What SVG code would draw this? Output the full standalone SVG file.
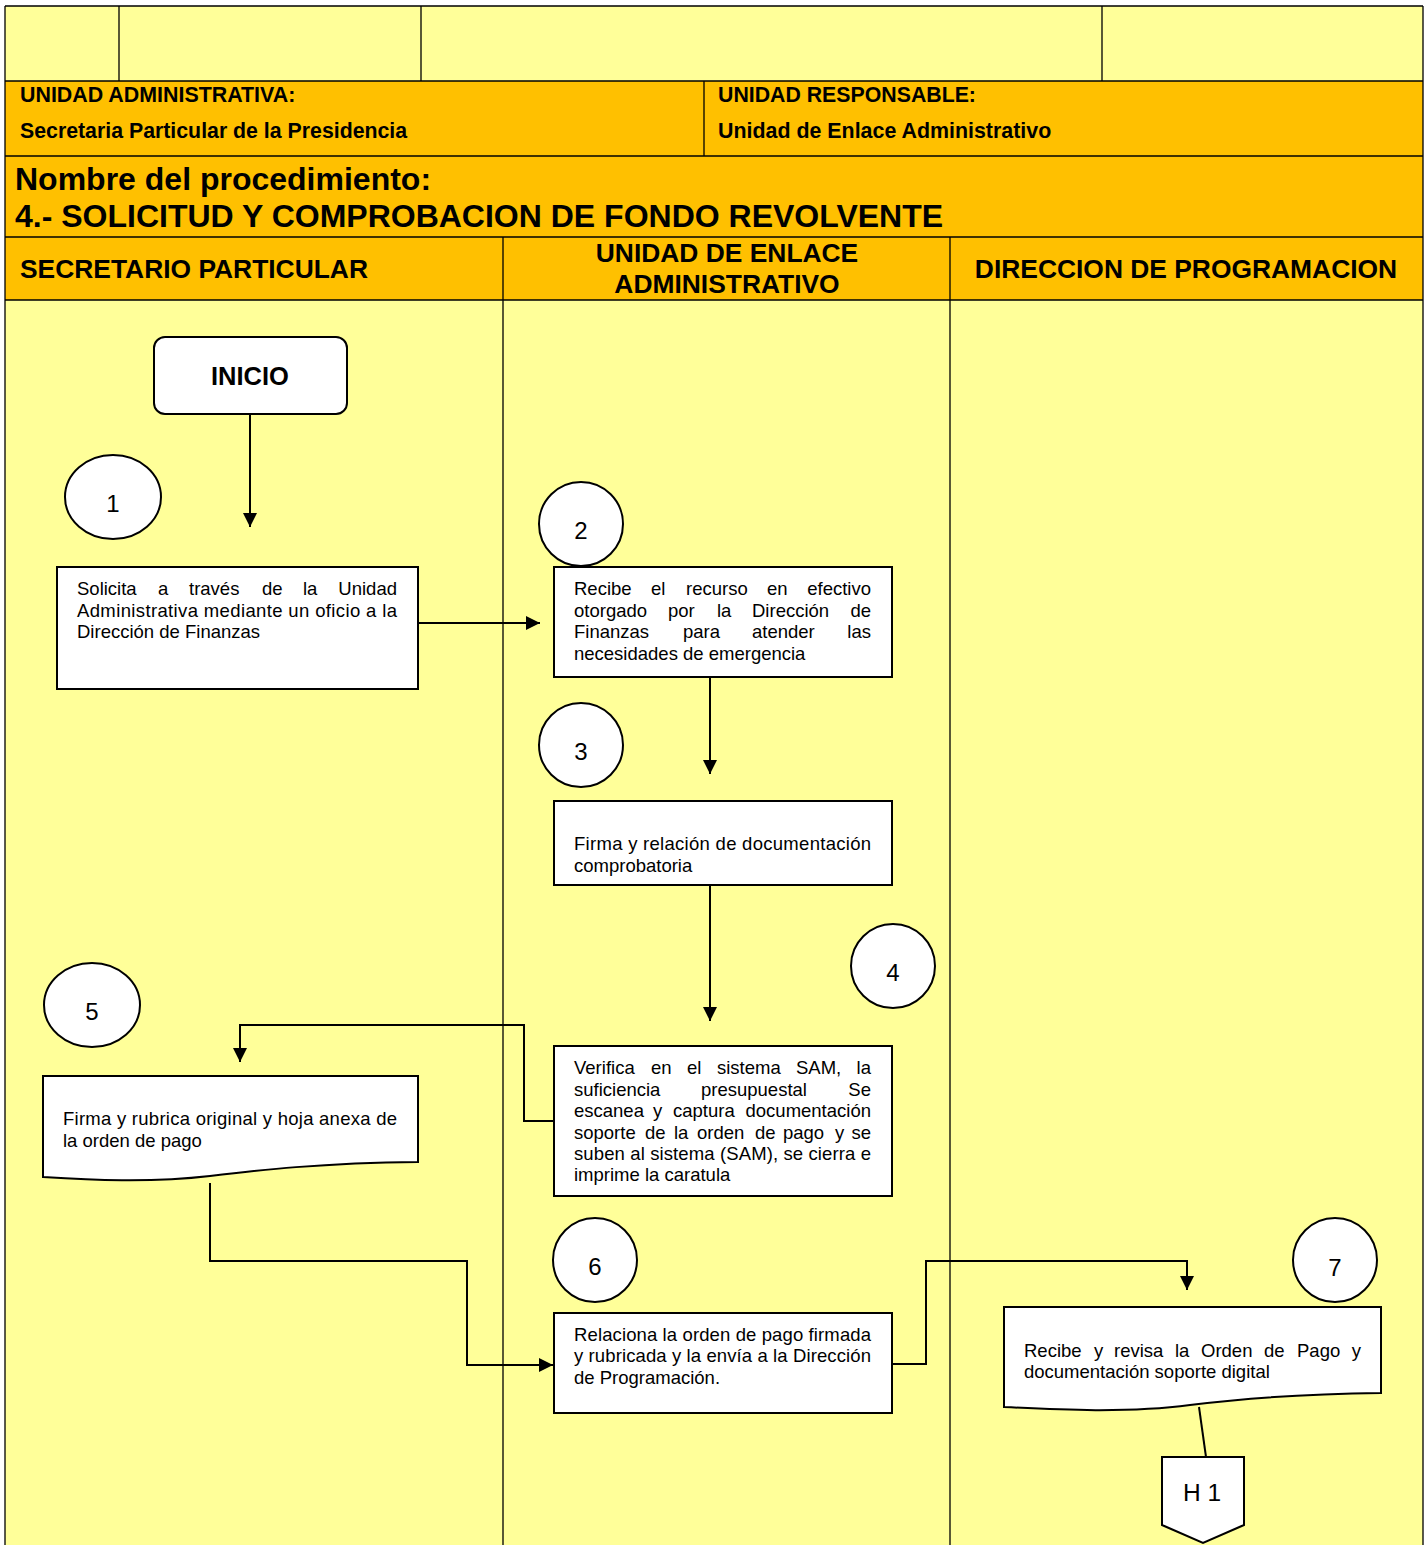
<svg xmlns="http://www.w3.org/2000/svg" width="1427" height="1545" viewBox="0 0 1427 1545">
  <style>
    .f{font-family:"Liberation Sans",Arial,Helvetica,sans-serif;fill:#000}
    .b{font-weight:bold}
    .t{font-size:18.5px}
    .num{font-size:24px;text-anchor:middle}
    .box{fill:#fff;stroke:#000;stroke-width:2}
    .grid{fill:none;stroke:#000;stroke-width:1.3}
    .con{fill:none;stroke:#000;stroke-width:2}
    .arr{marker-end:url(#ah)}
    .end{text-anchor:end}
  </style>
  <defs>
    <marker id="ah" markerUnits="userSpaceOnUse" markerWidth="14" markerHeight="14" viewBox="0 0 14 14" refX="14" refY="7" orient="auto">
      <path d="M0,0 L14,7 L0,14 Z" fill="#000"/>
    </marker>
  </defs>

  <!-- background bands -->
  <rect x="0" y="0" width="1427" height="1545" fill="#fff"/>
  <rect x="5" y="6" width="1418" height="75" fill="#FFFF99"/>
  <rect x="5" y="81" width="1418" height="219" fill="#FFC000"/>
  <rect x="5" y="300" width="1418" height="1250" fill="#FFFF99"/>

  <!-- header grid -->
  <g id="header-grid" class="grid">
    <path d="M5,6 H1423 M5,81 H1423 M5,156 H1423 M5,237 H1423 M5,300 H1423"/>
    <path d="M5,6 V1545 M1423,6 V1545"/>
    <path d="M119,6 V81 M421,6 V81 M1102,6 V81"/>
    <path d="M704,81 V156"/>
    <path d="M503,237 V1545 M950,237 V1545"/>
  </g>

  <!-- header texts -->
  <g id="header-text" class="f b">
    <text x="20" y="102" font-size="21.4">UNIDAD ADMINISTRATIVA:</text>
    <text x="20" y="138" font-size="21.3">Secretaria Particular de la Presidencia</text>
    <text x="718" y="102" font-size="21.3">UNIDAD RESPONSABLE:</text>
    <text x="718" y="138" font-size="21.4">Unidad de Enlace Administrativo</text>
    <text x="15" y="190" font-size="32">Nombre del procedimiento:</text>
    <text x="15" y="227" font-size="32">4.- SOLICITUD Y COMPROBACION DE FONDO REVOLVENTE</text>
  </g>

  <!-- lane titles -->
  <g id="lanes" class="f b" font-size="26.4">
    <text x="20" y="278">SECRETARIO PARTICULAR</text>
    <text x="727" y="262" text-anchor="middle">UNIDAD DE ENLACE</text>
    <text x="727" y="293" text-anchor="middle">ADMINISTRATIVO</text>
    <text x="1186" y="278" text-anchor="middle">DIRECCION DE PROGRAMACION</text>
  </g>

  <!-- connectors -->
  <g id="connectors" class="con">
    <path class="arr" d="M250,415 V527"/>
    <path class="arr" d="M418,623 H540"/>
    <path class="arr" d="M710,677 V774"/>
    <path class="arr" d="M710,885 V1021"/>
    <path class="arr" d="M554,1121 H524 V1025 H240 V1062"/>
    <path class="arr" d="M210,1183 V1261 H467 V1365 H553"/>
    <path class="arr" d="M892,1364 H926 V1261 H1187 V1290"/>
    <path d="M1199,1407 L1206,1457"/>
  </g>

  <!-- start -->
  <g id="inicio">
    <rect class="box" x="154" y="337" width="193" height="77" rx="11"/>
    <text class="f b" x="250" y="385" font-size="25.5" text-anchor="middle">INICIO</text>
  </g>

  <!-- step 1 -->
  <g id="n1">
    <ellipse class="box" cx="113" cy="497" rx="48" ry="42"/>
    <text class="f num" x="113" y="512">1</text>
  </g>
  <g id="step1">
    <rect class="box" x="57" y="567" width="361" height="122"/>
    <text class="f t" y="595"><tspan x="77">Solicita</tspan><tspan x="158">a</tspan><tspan x="189">través</tspan><tspan x="262">de</tspan><tspan x="303">la</tspan><tspan class="end" x="397">Unidad</tspan></text>
    <text class="f t" x="77" y="617" textLength="320" lengthAdjust="spacing">Administrativa mediante un oficio a la</text>
    <text class="f t" x="77" y="638">Dirección de Finanzas</text>
  </g>

  <!-- step 2 -->
  <g id="n2">
    <circle class="box" cx="581" cy="524" r="42"/>
    <text class="f num" x="581" y="539">2</text>
  </g>
  <g id="step2">
    <rect class="box" x="554" y="567" width="338" height="110"/>
    <text class="f t" y="595"><tspan x="574">Recibe</tspan><tspan x="651">el</tspan><tspan x="686">recurso</tspan><tspan x="767">en</tspan><tspan class="end" x="871">efectivo</tspan></text>
    <text class="f t" y="617"><tspan x="574">otorgado</tspan><tspan x="668">por</tspan><tspan x="717">la</tspan><tspan x="752">Dirección</tspan><tspan class="end" x="871">de</tspan></text>
    <text class="f t" y="638"><tspan x="574">Finanzas</tspan><tspan x="683">para</tspan><tspan x="752">atender</tspan><tspan class="end" x="871">las</tspan></text>
    <text class="f t" x="574" y="660">necesidades de emergencia</text>
  </g>

  <!-- step 3 -->
  <g id="n3">
    <circle class="box" cx="581" cy="745" r="42"/>
    <text class="f num" x="581" y="760">3</text>
  </g>
  <g id="step3">
    <rect class="box" x="554" y="801" width="338" height="84"/>
    <text class="f t" x="574" y="850" textLength="297" lengthAdjust="spacing">Firma y relación de documentación</text>
    <text class="f t" x="574" y="872">comprobatoria</text>
  </g>

  <!-- step 4 -->
  <g id="n4">
    <circle class="box" cx="893" cy="966" r="42"/>
    <text class="f num" x="893" y="981">4</text>
  </g>
  <g id="step4">
    <rect class="box" x="554" y="1046" width="338" height="150"/>
    <text class="f t" y="1074"><tspan x="574">Verifica</tspan><tspan x="651">en</tspan><tspan x="687">el</tspan><tspan x="717">sistema</tspan><tspan x="796">SAM,</tspan><tspan class="end" x="871">la</tspan></text>
    <text class="f t" y="1096"><tspan x="574">suficiencia</tspan><tspan x="701">presupuestal</tspan><tspan class="end" x="871">Se</tspan></text>
    <text class="f t" y="1117"><tspan x="574">escanea</tspan><tspan x="653">y</tspan><tspan x="673">captura</tspan><tspan class="end" x="871">documentación</tspan></text>
    <text class="f t" y="1139"><tspan x="574">soporte</tspan><tspan x="645">de</tspan><tspan x="674">la</tspan><tspan x="697">orden</tspan><tspan x="755">de</tspan><tspan x="783">pago</tspan><tspan x="835">y</tspan><tspan class="end" x="871">se</tspan></text>
    <text class="f t" x="574" y="1160" textLength="297" lengthAdjust="spacing">suben al sistema (SAM), se cierra e</text>
    <text class="f t" x="574" y="1181">imprime la caratula</text>
  </g>

  <!-- step 5 -->
  <g id="n5">
    <ellipse class="box" cx="92" cy="1005" rx="48" ry="42"/>
    <text class="f num" x="92" y="1020">5</text>
  </g>
  <g id="step5">
    <path class="box" d="M43,1076 H418 V1162 C320,1163 260,1170 210,1176 C150,1183 90,1180 43,1177 Z"/>
    <text class="f t" x="63" y="1125" textLength="334" lengthAdjust="spacing">Firma y rubrica original y hoja anexa de</text>
    <text class="f t" x="63" y="1147">la orden de pago</text>
  </g>

  <!-- step 6 -->
  <g id="n6">
    <circle class="box" cx="595" cy="1260" r="42"/>
    <text class="f num" x="595" y="1275">6</text>
  </g>
  <g id="step6">
    <rect class="box" x="554" y="1313" width="338" height="100"/>
    <text class="f t" x="574" y="1341" textLength="297" lengthAdjust="spacing">Relaciona la orden de pago  firmada</text>
    <text class="f t" x="574" y="1362" textLength="297" lengthAdjust="spacing">y rubricada y la envía a la Dirección</text>
    <text class="f t" x="574" y="1384">de Programación.</text>
  </g>

  <!-- step 7 -->
  <g id="n7">
    <circle class="box" cx="1335" cy="1260" r="42"/>
    <text class="f num" x="1335" y="1276">7</text>
  </g>
  <g id="step7">
    <path class="box" d="M1004,1307 H1381 V1393 C1290,1394 1230,1400 1190,1405 C1130,1413 1060,1410 1004,1407 Z"/>
    <text class="f t" y="1357"><tspan x="1024">Recibe</tspan><tspan x="1094">y</tspan><tspan x="1114">revisa</tspan><tspan x="1175">la</tspan><tspan x="1201">Orden</tspan><tspan x="1264">de</tspan><tspan x="1297">Pago</tspan><tspan class="end" x="1361">y</tspan></text>
    <text class="f t" x="1024" y="1378">documentación soporte digital</text>
  </g>

  <!-- off-page connector -->
  <g id="h1">
    <path class="box" d="M1162,1457 H1244 V1525 L1203,1543 L1162,1525 Z"/>
    <text class="f" x="1202" y="1501" font-size="24.5" text-anchor="middle">H 1</text>
  </g>
</svg>
